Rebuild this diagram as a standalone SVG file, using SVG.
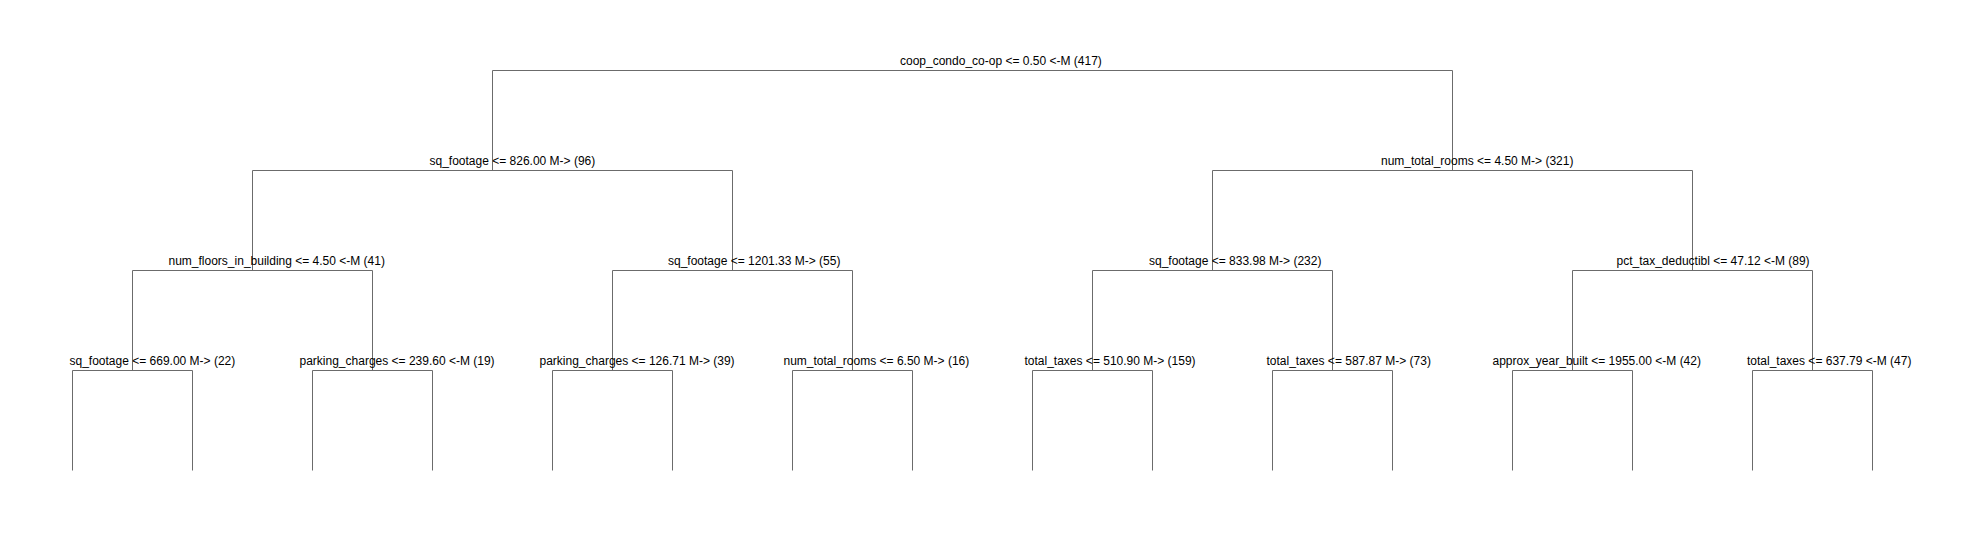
<svg xmlns="http://www.w3.org/2000/svg" width="1980" height="540" viewBox="0 0 1980 540">
<style>
.bg{fill:#ffffff}
.edge{fill:none;stroke:#6b6b6b;stroke-width:1}
.lbl{font-family:"Liberation Sans",Arial,sans-serif;font-size:12px;fill:#000000}
</style>
<rect class="bg" x="0" y="0" width="1980" height="540"/>
<g id="connectors">
<path class="edge" d="M492.5,170.5 V70.5 H1452.5 V170.5"/>
<path class="edge" d="M252.5,270.5 V170.5 H732.5 V270.5"/>
<path class="edge" d="M1212.5,270.5 V170.5 H1692.5 V270.5"/>
<path class="edge" d="M132.5,370.5 V270.5 H372.5 V370.5"/>
<path class="edge" d="M612.5,370.5 V270.5 H852.5 V370.5"/>
<path class="edge" d="M1092.5,370.5 V270.5 H1332.5 V370.5"/>
<path class="edge" d="M1572.5,370.5 V270.5 H1812.5 V370.5"/>
<path class="edge" d="M72.5,470.5 V370.5 H192.5 V470.5"/>
<path class="edge" d="M312.5,470.5 V370.5 H432.5 V470.5"/>
<path class="edge" d="M552.5,470.5 V370.5 H672.5 V470.5"/>
<path class="edge" d="M792.5,470.5 V370.5 H912.5 V470.5"/>
<path class="edge" d="M1032.5,470.5 V370.5 H1152.5 V470.5"/>
<path class="edge" d="M1272.5,470.5 V370.5 H1392.5 V470.5"/>
<path class="edge" d="M1512.5,470.5 V370.5 H1632.5 V470.5"/>
<path class="edge" d="M1752.5,470.5 V370.5 H1872.5 V470.5"/>
</g>
<g id="node-root"><text class="lbl" x="900" y="64.5">coop_condo_co-op &lt;= 0.50 &lt;-M (417)</text></g>
<g id="node-L"><text class="lbl" x="429.5" y="164.5">sq_footage &lt;= 826.00 M-&gt; (96)</text></g>
<g id="node-R"><text class="lbl" x="1381" y="164.5">num_total_rooms &lt;= 4.50 M-&gt; (321)</text></g>
<g id="node-LL"><text class="lbl" x="168.5" y="264.5">num_floors_in_building &lt;= 4.50 &lt;-M (41)</text></g>
<g id="node-LR"><text class="lbl" x="668" y="264.5">sq_footage &lt;= 1201.33 M-&gt; (55)</text></g>
<g id="node-RL"><text class="lbl" x="1149" y="264.5">sq_footage &lt;= 833.98 M-&gt; (232)</text></g>
<g id="node-RR"><text class="lbl" x="1616.5" y="264.5">pct_tax_deductibl &lt;= 47.12 &lt;-M (89)</text></g>
<g id="node-LLL"><text class="lbl" x="69.5" y="364.5">sq_footage &lt;= 669.00 M-&gt; (22)</text></g>
<g id="node-LLR"><text class="lbl" x="299.5" y="364.5">parking_charges &lt;= 239.60 &lt;-M (19)</text></g>
<g id="node-LRL"><text class="lbl" x="539.5" y="364.5">parking_charges &lt;= 126.71 M-&gt; (39)</text></g>
<g id="node-LRR"><text class="lbl" x="783.5" y="364.5">num_total_rooms &lt;= 6.50 M-&gt; (16)</text></g>
<g id="node-RLL"><text class="lbl" x="1024.5" y="364.5">total_taxes &lt;= 510.90 M-&gt; (159)</text></g>
<g id="node-RLR"><text class="lbl" x="1266.5" y="364.5">total_taxes &lt;= 587.87 M-&gt; (73)</text></g>
<g id="node-RRL"><text class="lbl" x="1492.5" y="364.5">approx_year_built &lt;= 1955.00 &lt;-M (42)</text></g>
<g id="node-RRR"><text class="lbl" x="1747" y="364.5">total_taxes &lt;= 637.79 &lt;-M (47)</text></g>
</svg>
